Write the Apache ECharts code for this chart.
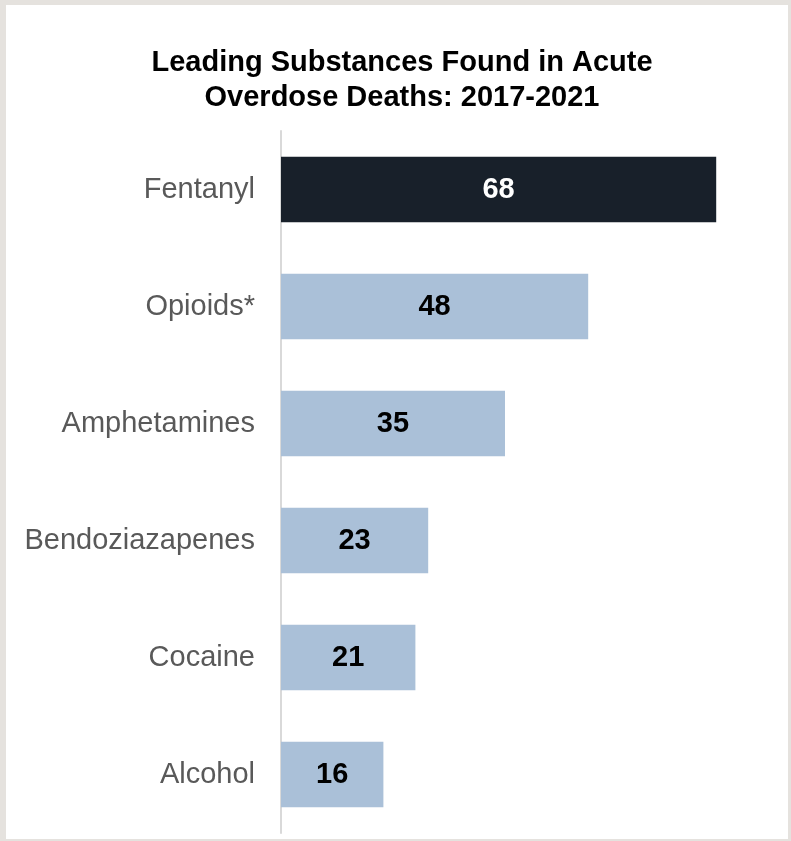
<!DOCTYPE html>
<html><head><meta charset="utf-8">
<script src="https://cdn.jsdelivr.net/npm/echarts@6/dist/echarts.min.js"></script>
<style>
html,body{margin:0;padding:0;background:#e5e2de;width:791px;height:841px;overflow:hidden;}
#bg{position:absolute;left:6px;top:5px;width:782px;height:834px;background:#fff;}
#chart{position:absolute;left:0;top:0;width:791px;height:841px;}
</style></head>
<body><div id="bg"></div><div id="chart"></div>
<script>
const categories = ["Fentanyl","Opioids*","Amphetamines","Bendoziazapenes","Cocaine","Alcohol"];
const values = [68,48,35,23,21,16];
const highlight = "Fentanyl";

const chart = echarts.init(document.getElementById('chart'), null, {renderer:'canvas'});
chart.setOption({
  backgroundColor:'transparent',
  title:{
    text:'Leading Substances Found in Acute\nOverdose Deaths: 2017-2021',
    left:397, textAlign:'center', top:40,
    textStyle:{fontFamily:'Liberation Sans, Arial', fontWeight:'bold', fontSize:29, color:'#000', lineHeight:35}
  },
  grid:{left:281, top:131, width:480, height:702, containLabel:false},
  xAxis:{type:'value', min:0, max:75, show:false},
  yAxis:{
    type:'category', data:categories, inverse:true,
    axisLine:{show:true, lineStyle:{color:'#d9d9d9', width:2}},
    axisTick:{show:false},
    axisLabel:{fontFamily:'Liberation Sans, Arial', fontSize:29, color:'#595959', margin:26}
  },
  series:[{
    type:'bar', barCategoryGap:'44%',
    data: values.map((v,i)=>({
      value:v,
      itemStyle:{color: categories[i]===highlight ? '#18202a' : '#aac0d8'},
      label:{color: categories[i]===highlight ? '#fff' : '#000'}
    })),
    label:{show:true, position:'inside', fontFamily:'Liberation Sans, Arial', fontWeight:'bold', fontSize:29},
    animation:false
  }],
  animation:false
});
</script></body></html>
